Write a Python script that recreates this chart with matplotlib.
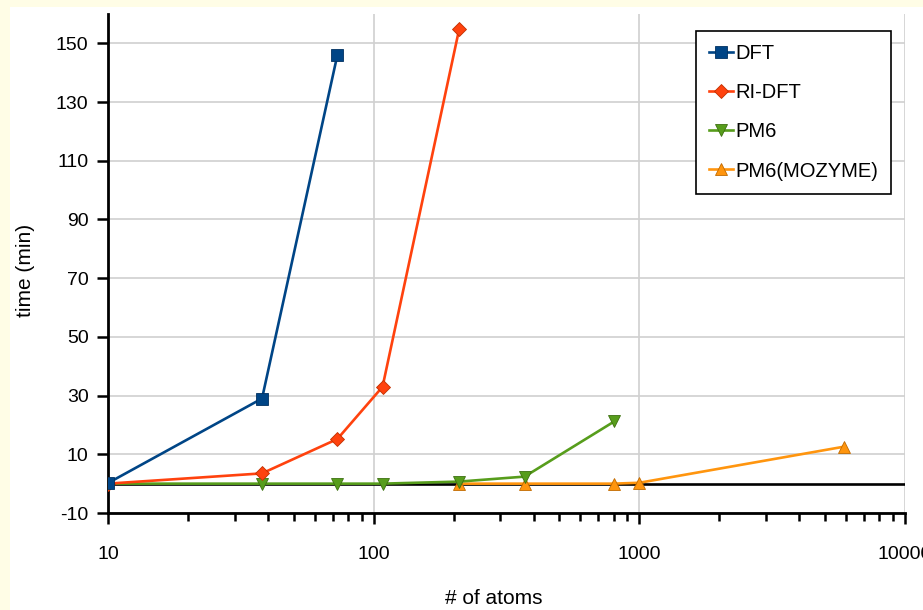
import matplotlib
matplotlib.use('Agg')
import matplotlib.pyplot as plt
from matplotlib.patches import Rectangle

plt.rcParams['font.family'] = ['Liberation Sans', 'DejaVu Sans']
plt.rcParams['axes.unicode_minus'] = False

# datos
atoms_dft = [10, 38, 73]
time_dft = [0.2, 29, 146]

atoms_ri = [10, 38, 73, 108, 210]
time_ri = [0, 3.5, 15.2, 33, 155]

atoms_pm6 = [10, 38, 73, 108, 210, 370, 805]
time_pm6 = [0, 0, 0, 0, 0.7, 2.4, 21.2]

atoms_moz = [210, 370, 800, 1000, 5900]
time_moz = [0, 0, 0, 0.3, 12.6]

yticks = [-10, 10, 30, 50, 70, 90, 110, 130, 150]
xticks = [10, 100, 1000, 10000]
xtick_labels = ['10', '100', '1000', '10000']

fig = plt.figure(figsize=(9.23, 6.10), dpi=100, facecolor='#fffde6')
# fondo blanco dentro del marco amarillo
fig.patches.append(Rectangle((10 / 923, 0), 1, 1 - 7 / 610, transform=fig.transFigure,
                             facecolor='white', edgecolor='none', zorder=-5))
ax = fig.add_axes([108 / 923, 1 - 513 / 610, (905 - 108) / 923, (513 - 14) / 610])
ax.set_facecolor('white')

ax.plot(atoms_dft, time_dft, color='#004586', marker='s', markersize=9, lw=1.9,
        mec='#003060', mew=0.6, label='DFT', zorder=6)
ax.plot(atoms_ri, time_ri, color='#ff420e', marker='D', markersize=7, lw=1.9,
        mec='#c03000', mew=0.6, label='RI-DFT', zorder=5)
ax.plot(atoms_pm6, time_pm6, color='#579d1c', marker='v', markersize=9, lw=1.9,
        mec='#3d7010', mew=0.6, label='PM6', zorder=4)
ax.plot(atoms_moz, time_moz, color='#ff950e', marker='^', markersize=9, lw=1.9,
        mec='#c06a00', mew=0.6, label='PM6(MOZYME)', zorder=3)

ax.axhline(0, color='black', lw=1.9, zorder=2)

ax.set_xscale('log')
ax.set_xlim(10, 10000)
ax.set_ylim(-10, 160)
ax.set_yticks(yticks)
ax.set_xticks(xticks)
ax.set_xticklabels(xtick_labels)

ax.grid(True, which='major', color='#d0d0d0', lw=1.2, zorder=1)
ax.set_axisbelow(True)

for s in ['top', 'right']:
    ax.spines[s].set_visible(False)
for s in ['left', 'bottom']:
    ax.spines[s].set_linewidth(2)

ax.tick_params(axis='both', which='major', direction='out', length=8, width=1.8,
               labelsize=14)
ax.tick_params(axis='y', pad=6)
ax.tick_params(axis='x', which='major', pad=16)
ax.tick_params(axis='x', which='minor', direction='out', length=6, width=1.8)

ax.set_xlabel('# of atoms', fontsize=15)
ax.set_ylabel('time (min)', fontsize=15)
ax.xaxis.set_label_coords(0.484, -0.152)
ax.yaxis.set_label_coords(-0.092, 0.487)

leg = ax.legend(loc='upper right', bbox_to_anchor=(891 / 923, 1 - 31 / 610),
                bbox_transform=fig.transFigure, fontsize=14.5, frameon=True,
                fancybox=False, framealpha=1, edgecolor='black',
                handlelength=1.2, handletextpad=0.1, labelspacing=1.0,
                borderpad=0.65, borderaxespad=0)
leg.get_frame().set_linewidth(1.2)

fig.savefig('out.png', dpi=100, facecolor=fig.get_facecolor())
